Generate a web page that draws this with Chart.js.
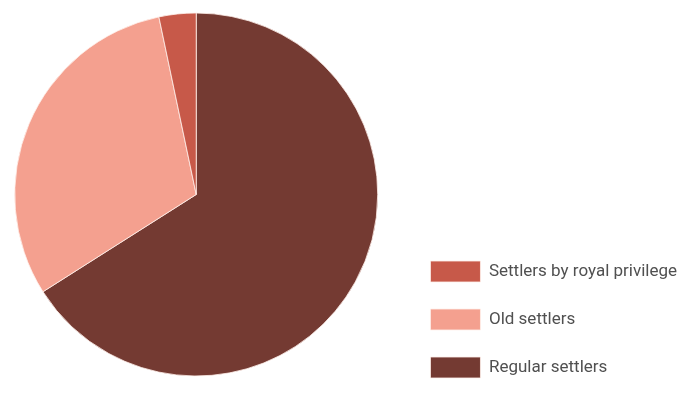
<!DOCTYPE html>
<html>
<head>
<meta charset="utf-8">
<script src="https://cdn.jsdelivr.net/npm/chart.js@4"></script>
<style>
html,body{margin:0;padding:0;background:#fff;}
#wrap{width:678px;height:398px;position:relative;}
</style>
</head>
<body>
<div id="wrap"><canvas id="c" width="678" height="398"></canvas></div>
<script>
// Data (drawn order: clockwise from 12 o'clock); legend shown reversed
const categories = ["Regular settlers", "Old settlers", "Settlers by royal privilege"];
const values = [66.0, 30.7, 3.3];
const colors = ["#743a32", "#f4a08f", "#c75949"];

new Chart(document.getElementById('c'), {
  type: 'pie',
  data: {
    labels: categories,
    datasets: [{
      data: values,
      backgroundColor: colors,
      borderColor: 'rgba(255,240,235,0.8)',
      borderWidth: 1
    }]
  },
  options: {
    responsive: false,
    animation: false,
    radius: 181.5,
    layout: { padding: { left: 0, right: -9, top: 0, bottom: -7 } },
    plugins: {
      tooltip: { enabled: false },
      // empty spacer boxes used only for layout gaps
      title: {
        display: true, text: '', position: 'right', weight: 500,
        padding: 0, font: { size: 10, lineHeight: 1.1 }
      },
      subtitle: {
        display: true, text: '', position: 'bottom', fullSize: false,
        padding: 0, font: { size: 16, lineHeight: 1 }
      },
      legend: {
        position: 'right',
        align: 'end',
        reverse: true,
        maxWidth: 320,
        labels: {
          boxWidth: 50,
          boxHeight: 21,
          padding: 27,
          color: '#505050',
          font: { family: "'Roboto', sans-serif", size: 17 }
        }
      }
    }
  }
});
</script>
</body>
</html>
